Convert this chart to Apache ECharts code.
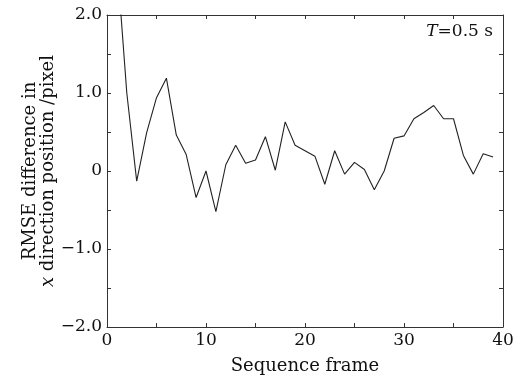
<!DOCTYPE html>
<html style="height: 100%">

<head>
  <meta charset="utf-8">
  <title>RMSE difference</title>
</head>

<body style="height: 100%; margin: 0; background: #fff">
  <div id="container" style="width: 518px; height: 380px"></div>
  <script type="text/javascript" src="https://cdn.jsdelivr.net/npm/echarts@6/dist/echarts.min.js"></script>
  <script type="text/javascript">
    // 数据
    const frames = [1, 2, 3, 4, 5, 6, 7, 8, 9, 10, 11, 12, 13, 14, 15, 16, 17, 18, 19, 20,
      21, 22, 23, 24, 25, 26, 27, 28, 29, 30, 31, 32, 33, 34, 35, 36, 37, 38, 39];
    const rmseDiff = [2.7, 1.0, -0.13, 0.49, 0.94, 1.19, 0.46, 0.21, -0.34, 0.0,
      -0.52, 0.08, 0.33, 0.10, 0.14, 0.44, 0.01, 0.63, 0.33, 0.26,
      0.19, -0.17, 0.26, -0.04, 0.11, 0.02, -0.24, 0.0, 0.42, 0.45,
      0.67, 0.75, 0.84, 0.67, 0.67, 0.20, -0.04, 0.22, 0.18];
    const xLabels = { 0: '0', 10: '10', 20: '20', 30: '30', 40: '40' };
    const yLabels = { '2': '2.0', '1': '1.0', '0': '0', '-1': '\u22121.0', '-2': '\u22122.0' };

    const font = 'DejaVu Serif';
    const axisColor = '#333';
    let myChart = echarts.init(document.getElementById('container'));

    const frameAxis = {
      axisLine: { show: true, onZero: false, lineStyle: { color: axisColor, width: 1 } },
      axisTick: { show: true, inside: true, length: 4, lineStyle: { color: axisColor } },
      splitLine: { show: false }
    };

    let option = {
      animation: false,
      grid: { left: 107, right: 15, top: 15, bottom: 52 },
      title: {
        text: '{i|T}{n|=0.5 s}',
        right: 20,
        top: 18,
        textStyle: {
          fontWeight: 'normal',
          rich: {
            i: { fontFamily: font, fontSize: 17, fontStyle: 'italic', fontWeight: 'normal', color: '#111' },
            n: { fontFamily: font, fontSize: 17, fontWeight: 'normal', color: '#111' }
          }
        }
      },
      xAxis: [
        Object.assign({
          type: 'value', min: 0, max: 40, interval: 5,
          name: 'Sequence frame', nameLocation: 'middle', nameGap: 30,
          nameMoveOverlap: false,
          nameTextStyle: { fontFamily: font, fontSize: 18, color: '#111' },
          axisLabel: {
            fontFamily: font, fontSize: 17, color: '#111', margin: 5,
            formatter: v => xLabels[v] !== undefined ? xLabels[v] : ''
          }
        }, frameAxis),
        Object.assign({
          type: 'value', min: 0, max: 40, interval: 5, position: 'top',
          axisLabel: { show: false }
        }, frameAxis)
      ],
      yAxis: [
        Object.assign({
          type: 'value', min: -2, max: 2, interval: 0.5,
          name: '{n|RMSE difference in}\n{i|x}{n| direction position /pixel}',
          nameLocation: 'middle', nameGap: 50, nameRotate: 90,
          nameMoveOverlap: false,
          nameTextStyle: {
            lineHeight: 18,
            rich: {
              n: { fontFamily: font, fontSize: 18, color: '#111', lineHeight: 18 },
              i: { fontFamily: font, fontSize: 18, fontStyle: 'italic', color: '#111', lineHeight: 18 }
            }
          },
          axisLabel: {
            fontFamily: font, fontSize: 17, color: '#111', margin: 5,
            formatter: v => yLabels[String(v)] !== undefined ? yLabels[String(v)] : ''
          }
        }, frameAxis),
        Object.assign({
          type: 'value', min: -2, max: 2, interval: 0.5, position: 'right',
          axisLabel: { show: false }
        }, frameAxis)
      ],
      series: [
        {
          type: 'line',
          data: frames.map((f, i) => [f, rmseDiff[i]]),
          showSymbol: false,
          clip: true,
          lineStyle: { color: '#222', width: 1.1 }
        }
      ]
    };

    myChart.setOption(option);
  </script>
</body>

</html>
